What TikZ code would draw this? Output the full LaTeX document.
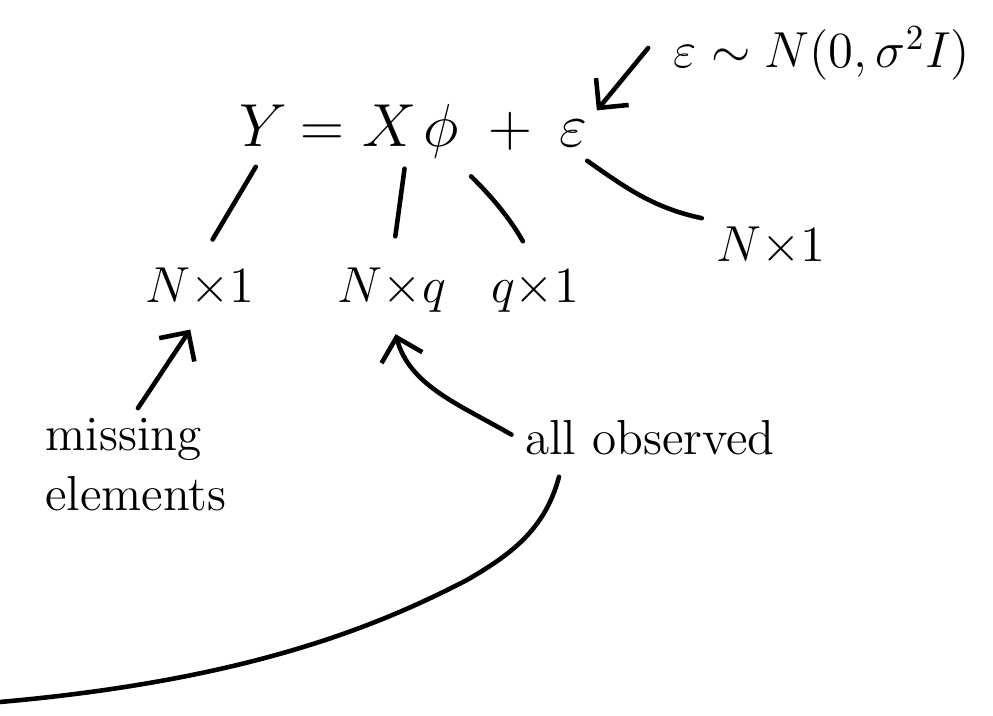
\documentclass[tikz,border=0pt]{standalone}
\usepackage{amsmath,amssymb}
\usepackage{tikz}
\usetikzlibrary{arrows.meta}

\tikzset{
  sym/.style={anchor=base, inner sep=2pt, font=\fontsize{19}{23}\selectfont},
  lbl/.style={anchor=base, inner sep=2pt, font=\fontsize{14}{17}\selectfont},
  link/.style={line width=1.3pt, line cap=round, shorten <=4pt, shorten >=7pt},
  arr/.style={link, -{Straight Barb[length=6pt,width=12pt]}},
}

\begin{document}
\begin{tikzpicture}[x=0.01cm, y=-0.01cm]
    \useasboundingbox (0,0) rectangle (993,716);

    % 方程
    \node[sym] (eqY)    at (263,147) {$Y$};
    \node[sym] (eqEq)   at (322,147) {$=$};
    \node[sym] (eqX)    at (390,147) {$X$};
    \node[sym] (eqPhi)  at (441,147) {$\phi$};
    \node[sym] (eqPlus) at (510,147) {$+$};
    \node[sym] (eqEps)  at (573,147) {$\varepsilon$};

    % 维度
    \node[lbl] (dimY)   at (200,303) {$N{\times}1$};
    \node[lbl] (dimX)   at (392,303) {$N{\times}q$};
    \node[lbl] (dimPhi) at (535,303) {$q{\times}1$};
    \node[lbl] (dimEps) at (771,262) {$N{\times}1$};

    % 注释
    \node[lbl] (noise) at (822,68) {$\varepsilon\sim N(0,\sigma^2 I)$};
    \node[lbl, anchor=center, align=left] (miss) at (136,465) {missing\\elements};
    \node[lbl] (obs) at (650,455) {all observed};
    \coordinate (edge) at (0,702);

    % 连线
    \draw[link] (eqY.south) -- (dimY.north);
    \draw[link] (eqX.-60) -- (dimX.north);
    \draw[link] (eqPhi.-60) to[bend left=8] (dimPhi.north);
    \draw[link, shorten <=3pt, shorten >=2pt] (eqEps.-75) to[out=-35, in=168] (dimEps.north west);
    \draw[arr, shorten <=8pt, shorten >=1pt] (noise.170) -- (eqEps.north east);
    \draw[arr, shorten <=1pt, shorten >=5pt] (miss.north) -- (dimY.south);
    \draw[arr, shorten <=2pt, shorten >=4pt] (obs.west) to[out=150, in=-75] (dimX.south);
    \draw[link, shorten >=0pt] (obs.196) .. controls (545,530) and (510,555) .. (467,580)
        .. controls (380,625) and (250,680) .. (edge);
\end{tikzpicture}
\end{document}
